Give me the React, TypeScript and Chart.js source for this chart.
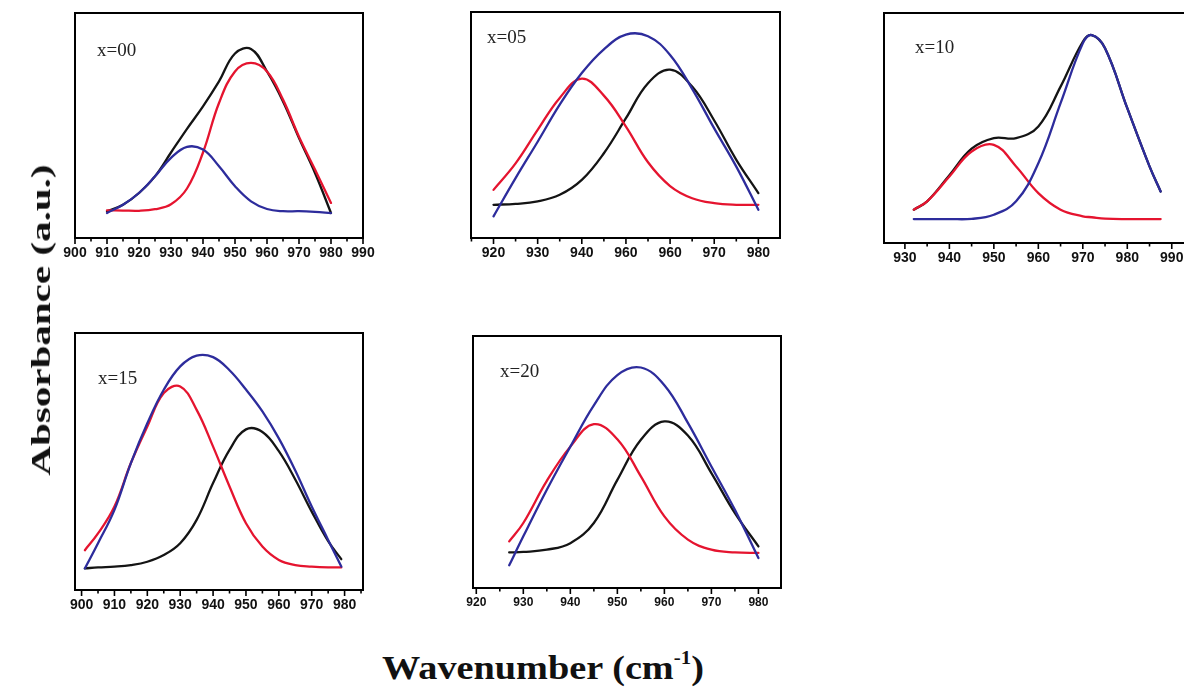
import React, { useEffect, useRef } from "react";
import { Chart, registerables } from "chart.js";

Chart.register(...registerables);

// ---------------- DATA ----------------
// y values are absorbance in arbitrary units (0 = frame bottom, 100 = frame top)

// Panel x=00
const p1X = [910, 915, 920, 925, 930, 935, 940, 945, 950, 955, 960, 965, 970, 975, 980];
const p1Black = [11.9, 14.8, 20, 27.4, 38, 48.5, 58.5, 69.6, 82, 84, 74, 60.7, 44.4, 28.9, 11.1];
const p1Red = [12.3, 12.2, 12.1, 12.8, 15, 22, 38, 60, 74, 77.8, 74, 61.5, 45, 30.4, 15.6];
const p1Blue = [11.1, 14.8, 20, 27.4, 35.6, 40.5, 39.3, 31.9, 23, 16.3, 12.9, 11.9, 11.9, 11.6, 11.1];
const p1Ticks = [900, 910, 920, 930, 940, 950, 960, 970, 980, 990];
const p1TickLabels = ["900", "910", "920", "930", "940", "950", "960", "970", "980", "990"];

// Panel x=05
const p2X = [920, 925, 930, 935, 940, 945, 950, 955, 960, 965, 970, 975, 980];
const p2Blue = [9.6, 26.5, 42.6, 59, 73, 83.5, 90, 89.3, 81, 66, 48.5, 31.6, 12.5];
const p2Red = [21.3, 33, 47.8, 62, 70.5, 63, 49.3, 33.5, 23, 17.6, 15.4, 14.7, 14.7];
const p2Black = [14.7, 15.1, 16.2, 19.1, 25.7, 37.5, 53, 68.5, 74.5, 67, 52, 34.6, 19.9];
const p2Ticks = [920, 930, 940, 950, 960, 970, 980];
const p2TickLabels = ["920", "930", "940", "960", "960", "970", "980"];

// Panel x=10
const p3X = [932, 935, 940, 945, 950, 955, 960, 965, 970, 972, 975, 980, 985, 987.5];
const p3Red = [14.5, 18.1, 28.9, 39.8, 42.7, 33.3, 21.7, 14.5, 11.6, 11.2, 10.6, 10.4, 10.4, 10.4];
const p3Blue = [10.4, 10.4, 10.4, 10.5, 12.3, 18.1, 34.7, 60.8, 86.8, 90.4, 84.7, 58.6, 33.3, 22.4];
const p3Black = [14.5, 18.1, 29.5, 41, 45.6, 45.6, 50.7, 68, 87.5, 90.4, 84.7, 58.6, 33.3, 22.4];
const p3Ticks = [930, 940, 950, 960, 970, 980, 990];
const p3TickLabels = ["930", "940", "950", "960", "970", "980", "990"];

// Panel x=15
const p4X = [901, 905, 910, 915, 920, 925, 930, 935, 940, 945, 950, 955, 960, 965, 970, 975, 979];
const p4Blue = [8.4, 18.2, 31.2, 49.4, 64.9, 77.9, 87, 91.2, 90.6, 85.5, 78, 69.5, 59, 46.5, 32.5, 19.5, 9.1];
const p4Red = [15.5, 22, 32.5, 49.4, 63.6, 76.6, 79.2, 70.1, 55.8, 40.3, 26, 16.9, 11.7, 9.7, 9.1, 8.8, 8.8];
const p4Black = [8.4, 8.8, 9.1, 9.7, 11, 13.6, 18.2, 27.3, 41.6, 54.5, 62.5, 61.5, 54, 43, 30.5, 19, 12];
const p4Ticks = [900, 910, 920, 930, 940, 950, 960, 970, 980];
const p4TickLabels = ["900", "910", "920", "930", "940", "950", "960", "970", "980"];

// Panel x=20
const p5X = [927, 930, 935, 940, 945, 950, 955, 960, 965, 970, 975, 980];
const p5Blue = [9, 20.5, 39, 56.1, 72.5, 84.5, 87.5, 80.5, 65.5, 48.2, 31, 11.9];
const p5Red = [18.5, 25.8, 42.5, 56.1, 65, 59, 44.3, 28.4, 19.2, 15.2, 14.1, 13.9];
const p5Black = [14.1, 14.3, 15.2, 17.8, 25.8, 42.9, 58.8, 66.1, 60.5, 45.6, 29.7, 16.5];
const p5Ticks = [920, 930, 940, 950, 960, 970, 980];
const p5TickLabels = ["920", "930", "940", "950", "960", "970", "980"];

// ---------------- STYLE / LAYOUT ----------------
const BLACK = "#141414";
const RED = "#e5142f";
const BLUE = "#2d2c9c";

type Box = { left: number; top: number; width: number; height: number };
type Spec = {
  name: string;
  xs: number[];
  black: number[];
  red: number[];
  blue: number[];
  ticks: number[];
  tickLabels: string[];
  xMin: number;
  xMax: number;
  box: Box;
  labelPos: { x: number; y: number };
  tickFontSize: number;
};

const PAD_X = 20;
const PAD_TOP = 10;
const AXIS_H = 30;

const specs: Spec[] = [
  {
    name: "x=00", xs: p1X, black: p1Black, red: p1Red, blue: p1Blue,
    ticks: p1Ticks, tickLabels: p1TickLabels, xMin: 900, xMax: 990,
    box: { left: 75, top: 13, width: 288, height: 225 },
    labelPos: { x: 97, y: 50 }, tickFontSize: 14,
  },
  {
    name: "x=05", xs: p2X, black: p2Black, red: p2Red, blue: p2Blue,
    ticks: p2Ticks, tickLabels: p2TickLabels, xMin: 914.9, xMax: 984.9,
    box: { left: 471, top: 12, width: 309, height: 226 },
    labelPos: { x: 487, y: 37 }, tickFontSize: 14,
  },
  {
    name: "x=10", xs: p3X, black: p3Black, red: p3Red, blue: p3Blue,
    ticks: p3Ticks, tickLabels: p3TickLabels, xMin: 925.3, xMax: 995,
    box: { left: 884, top: 13, width: 310, height: 230 },
    labelPos: { x: 915, y: 47 }, tickFontSize: 14,
  },
  {
    name: "x=15", xs: p4X, black: p4Black, red: p4Red, blue: p4Blue,
    ticks: p4Ticks, tickLabels: p4TickLabels, xMin: 898, xMax: 985.6,
    box: { left: 75, top: 333, width: 288, height: 257 },
    labelPos: { x: 98, y: 378 }, tickFontSize: 14,
  },
  {
    name: "x=20", xs: p5X, black: p5Black, red: p5Red, blue: p5Blue,
    ticks: p5Ticks, tickLabels: p5TickLabels, xMin: 919.3, xMax: 984.8,
    box: { left: 473, top: 336, width: 308, height: 252 },
    labelPos: { x: 500, y: 371 }, tickFontSize: 12,
  },
];

const framePlugin = {
  id: "frame",
  afterDatasetsDraw(chart: any) {
    const { ctx, chartArea: a, scales } = chart;
    const xs = scales.x;
    const major: number[] = chart.options.plugins.frame.ticks;
    ctx.save();
    ctx.strokeStyle = "#000";
    ctx.lineWidth = 2;
    ctx.strokeRect(a.left, a.top, a.right - a.left, a.bottom - a.top);
    ctx.lineWidth = 1.6;
    ctx.beginPath();
    const minors: number[] = [];
    for (let i = 0; i < major.length - 1; i++) minors.push((major[i] + major[i + 1]) / 2);
    const step = major[1] - major[0];
    minors.push(major[0] - step / 2, major[major.length - 1] + step / 2);
    major.forEach((v) => {
      const px = xs.getPixelForValue(v);
      ctx.moveTo(px, a.bottom);
      ctx.lineTo(px, a.bottom + 6);
    });
    minors.forEach((v) => {
      if (v < xs.min || v > xs.max) return;
      const px = xs.getPixelForValue(v);
      ctx.moveTo(px, a.bottom);
      ctx.lineTo(px, a.bottom + 3.5);
    });
    ctx.stroke();
    ctx.restore();
  },
};

function Panel({ spec }: { spec: Spec }) {
  const ref = useRef<HTMLCanvasElement>(null);
  const w = spec.box.width + PAD_X * 2;
  const h = spec.box.height + PAD_TOP + AXIS_H;
  useEffect(() => {
    const mk = (vals: number[]) => spec.xs.map((x, i) => ({ x, y: vals[i] }));
    const line = (label: string, vals: number[], color: string) => ({
      label,
      data: mk(vals),
      borderColor: color,
      backgroundColor: color,
      borderWidth: 2.3,
      pointRadius: 0,
      tension: 0.4,
      borderCapStyle: "round" as const,
      borderJoinStyle: "round" as const,
      fill: false,
    });
    const chart = new Chart(ref.current!, {
      type: "line",
      data: {
        datasets: [
          line("blue", spec.blue, BLUE),
          line("red", spec.red, RED),
          line("black", spec.black, BLACK),
        ],
      },
      options: {
        responsive: false,
        animation: false,
        events: [],
        layout: { padding: { left: PAD_X, right: PAD_X, top: PAD_TOP, bottom: 0 } },
        plugins: {
          legend: { display: false },
          tooltip: { enabled: false },
          // @ts-ignore
          frame: { ticks: spec.ticks },
        },
        scales: {
          x: {
            type: "linear",
            min: spec.xMin,
            max: spec.xMax,
            afterBuildTicks: (axis: any) => {
              axis.ticks = spec.ticks.map((v) => ({ value: v }));
            },
            afterFit: (axis: any) => {
              axis.height = AXIS_H;
            },
            grid: { display: false, drawTicks: true, tickLength: 6 },
            border: { display: false },
            ticks: {
              autoSkip: false,
              maxRotation: 0,
              minRotation: 0,
              padding: 1,
              color: "#111",
              font: { family: "'Liberation Sans', Arial, sans-serif", size: spec.tickFontSize, weight: "bold" },
              callback: (v: any) => {
                const i = spec.ticks.indexOf(Number(v));
                return i >= 0 ? spec.tickLabels[i] : "";
              },
            },
          },
          y: { display: false, min: 0, max: 100 },
        },
      },
      plugins: [framePlugin],
    } as any);
    return () => chart.destroy();
  }, [spec]);
  return (
    <>
      <canvas
        ref={ref}
        width={w}
        height={h}
        style={{
          position: "absolute",
          left: spec.box.left - PAD_X,
          top: spec.box.top - PAD_TOP,
          width: w,
          height: h,
        }}
      />
      <div
        style={{
          position: "absolute",
          left: spec.labelPos.x,
          top: spec.labelPos.y - 11,
          height: 22,
          lineHeight: "22px",
          fontFamily: "'Liberation Serif', 'Times New Roman', serif",
          fontSize: 19,
          color: "#222",
          whiteSpace: "nowrap",
        }}
      >
        {spec.name}
      </div>
    </>
  );
}

export default function App() {
  return (
    <div
      style={{
        position: "fixed",
        left: 0,
        top: 0,
        width: 1184,
        height: 694,
        overflow: "hidden",
        background: "#fff",
      }}
    >
      {specs.map((s) => (
        <Panel key={s.name} spec={s} />
      ))}
      <div
        style={{
          position: "absolute",
          left: 41,
          top: 320,
          transform: "translate(-50%, -50%) rotate(-90deg) scaleX(1.52)",
          fontFamily: "'Liberation Serif', 'Times New Roman', serif",
          fontWeight: "bold",
          fontSize: 27,
          lineHeight: "30px",
          whiteSpace: "nowrap",
          color: "#111",
        }}
      >
        Absorbance (a.u.)
      </div>
      <div
        style={{
          position: "absolute",
          left: 543,
          top: 668,
          transform: "translate(-50%, -50%) scaleX(1.16)",
          fontFamily: "'Liberation Serif', 'Times New Roman', serif",
          fontWeight: "bold",
          fontSize: 33,
          lineHeight: "38px",
          whiteSpace: "nowrap",
          color: "#111",
        }}
      >
        Wavenumber (cm<sup style={{ fontSize: 18, verticalAlign: "top", lineHeight: "18px" }}>-1</sup>)
      </div>
    </div>
  );
}
